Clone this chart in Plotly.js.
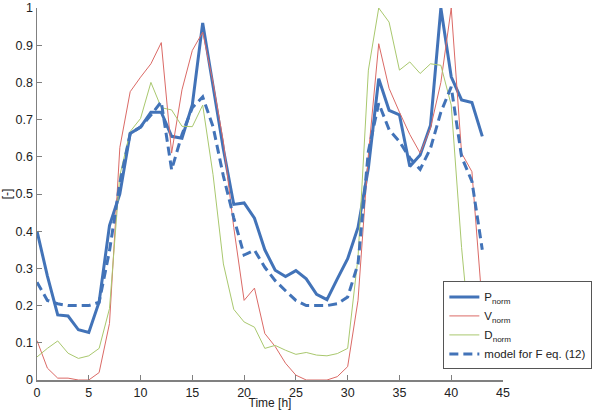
<!DOCTYPE html>
<html>
<head>
<meta charset="utf-8">
<script src="https://cdn.plot.ly/plotly-3.0.1.min.js"></script>
<style>html,body{margin:0;padding:0;background:#fff;}#chart{width:600px;height:410px;}</style>
</head>
<body>
<div id="chart"></div>
<script>
const hours = [0,1,2,3,4,5,6,7,8,9,10,11,12,13,14,15,16,17,18,19,20,21,22,23,24,25,26,27,28,29,30,31,32,33,34,35,36,37,38,39,40,41,42,43];
const pNorm = [0.40,0.28,0.175,0.172,0.135,0.128,0.21,0.415,0.50,0.663,0.68,0.72,0.72,0.655,0.65,0.74,0.96,0.79,0.62,0.472,0.476,0.435,0.35,0.295,0.278,0.294,0.272,0.23,0.216,0.272,0.326,0.41,0.57,0.81,0.725,0.713,0.574,0.605,0.685,1.0,0.815,0.753,0.746,0.655];
const vNorm = [0.106,0.032,0.005,0.005,0.0,0.0,0.02,0.152,0.625,0.775,0.814,0.85,0.907,0.61,0.78,0.886,0.935,0.80,0.64,0.41,0.214,0.247,0.125,0.09,0.045,0.013,0.0,0.0,0.0,0.009,0.036,0.214,0.606,0.904,0.784,0.72,0.66,0.61,0.677,0.80,1.0,0.61,0.56,0.20];
const dNorm = [0.062,0.085,0.105,0.072,0.058,0.065,0.085,0.192,0.55,0.668,0.703,0.80,0.732,0.726,0.682,0.681,0.739,0.552,0.312,0.19,0.156,0.142,0.085,0.093,0.08,0.069,0.074,0.067,0.065,0.071,0.085,0.33,0.833,1.0,0.962,0.833,0.855,0.824,0.85,0.846,0.739,0.356,0.06,0.05];
const modelF = [0.263,0.214,0.205,0.20,0.20,0.20,0.209,0.347,0.53,0.663,0.68,0.712,0.748,0.565,0.66,0.732,0.761,0.681,0.548,0.436,0.336,0.349,0.303,0.267,0.24,0.214,0.20,0.20,0.20,0.205,0.223,0.312,0.615,0.744,0.673,0.641,0.597,0.566,0.623,0.72,0.788,0.60,0.534,0.35];
const seriesNames = ['P<sub>norm</sub>','V<sub>norm</sub>','D<sub>norm</sub>','model for F eq. (12)'];
const xTicks = [0,5,10,15,20,25,30,35,40,45];
const yTicks = [0,0.1,0.2,0.3,0.4,0.5,0.6,0.7,0.8,0.9,1];
const yTickText = ['0','0.1','0.2','0.3','0.4','0.5','0.6','0.7','0.8','0.9','1'];

const traces = [
  {x: hours, y: pNorm, name: seriesNames[0], mode: 'lines', line: {color: '#4273B8', width: 3}},
  {x: hours, y: vNorm, name: seriesNames[1], mode: 'lines', line: {color: '#DB6A66', width: 1}},
  {x: hours, y: dNorm, name: seriesNames[2], mode: 'lines', line: {color: '#A9C86E', width: 1}},
  {x: hours, y: modelF, name: seriesNames[3], mode: 'lines', line: {color: '#4273B8', width: 3, dash: '9px,5px'}}
];

const axisCommon = {
  showgrid: false, zeroline: false, showline: true, linecolor: '#808080', linewidth: 1.5,
  ticks: 'inside', ticklen: 5, tickcolor: '#808080', tickwidth: 1,
  tickfont: {family: 'Liberation Sans, Arial, sans-serif', size: 12.5, color: '#222'}
};

const layout = {
  width: 600, height: 410,
  margin: {l: 37, r: 88, t: 8, b: 30},
  paper_bgcolor: '#fff', plot_bgcolor: '#fff',
  font: {family: 'Liberation Sans, Arial, sans-serif', size: 12, color: '#222'},
  xaxis: Object.assign({}, axisCommon, {range: [0, 45], tickmode: 'array', tickvals: xTicks,
    title: {text: 'Time [h]', standoff: 4, font: {size: 12}}}),
  yaxis: Object.assign({}, axisCommon, {range: [0, 1], tickmode: 'array', tickvals: yTicks, ticktext: yTickText,
    title: {text: '[-]', standoff: 6, font: {size: 12}}}),
  showlegend: true,
  legend: {x: 0.872, y: 0.265, xanchor: 'left', yanchor: 'top', bgcolor: '#fff',
    bordercolor: '#555', borderwidth: 1, font: {size: 11.5}, tracegroupgap: 0, itemwidth: 30}
};

Plotly.newPlot('chart', traces, layout, {displayModeBar: false, staticPlot: true});
</script>
</body>
</html>
